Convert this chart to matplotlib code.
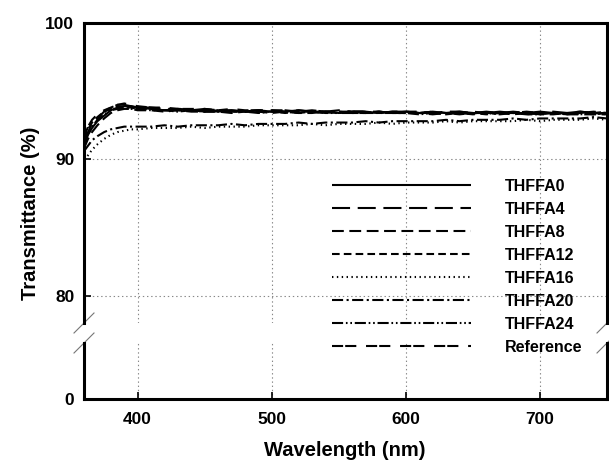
import matplotlib
matplotlib.use("Agg")
import matplotlib.pyplot as plt

plt.rcParams['font.family'] = ['Liberation Sans', 'DejaVu Sans']
plt.rcParams['font.weight'] = 'bold'
plt.rcParams['lines.scale_dashes'] = False

wl = [360, 363, 366, 370, 375, 380, 385, 390, 395, 400,
      410, 420, 430, 440, 450, 460, 470, 480, 490, 500,
      510, 520, 530, 540, 550, 560, 570, 580, 590, 600,
      610, 620, 630, 640, 650, 660, 670, 680, 690, 700,
      710, 720, 730, 740, 750]

thffa0 = [91.0, 91.8, 92.3, 92.8, 93.2, 93.6, 93.8, 93.9, 93.9, 93.8,
          93.7, 93.6, 93.7, 93.6, 93.6, 93.5, 93.6, 93.5, 93.6, 93.5,
          93.5, 93.6, 93.5, 93.5, 93.4, 93.5, 93.5, 93.4, 93.5, 93.5,
          93.4, 93.5, 93.4, 93.5, 93.4, 93.4, 93.5, 93.4, 93.4, 93.5,
          93.4, 93.4, 93.5, 93.4, 93.4]
thffa4 = [91.3, 92.0, 92.6, 93.0, 93.5, 93.8, 94.0, 94.0, 93.9, 93.8,
          93.8, 93.7, 93.7, 93.6, 93.7, 93.6, 93.6, 93.5, 93.6, 93.6,
          93.5, 93.6, 93.5, 93.5, 93.6, 93.5, 93.5, 93.5, 93.4, 93.5,
          93.5, 93.4, 93.5, 93.5, 93.4, 93.5, 93.4, 93.5, 93.4, 93.4,
          93.5, 93.4, 93.4, 93.5, 93.4]
thffa8 = [90.8, 91.5, 92.0, 92.5, 93.0, 93.4, 93.6, 93.7, 93.7, 93.6,
          93.6, 93.5, 93.6, 93.5, 93.5, 93.5, 93.4, 93.5, 93.5, 93.4,
          93.5, 93.4, 93.4, 93.5, 93.4, 93.4, 93.4, 93.5, 93.4, 93.4,
          93.4, 93.3, 93.4, 93.4, 93.3, 93.4, 93.4, 93.3, 93.4, 93.3,
          93.3, 93.4, 93.3, 93.3, 93.3]
thffa12 = [91.5, 92.2, 92.7, 93.1, 93.5, 93.7, 93.9, 93.8, 93.8, 93.7,
           93.7, 93.6, 93.6, 93.6, 93.5, 93.6, 93.5, 93.5, 93.5, 93.5,
           93.4, 93.5, 93.5, 93.4, 93.5, 93.4, 93.4, 93.5, 93.4, 93.4,
           93.4, 93.4, 93.3, 93.4, 93.4, 93.3, 93.4, 93.4, 93.3, 93.4,
           93.4, 93.3, 93.4, 93.3, 93.4]
thffa16 = [90.0, 90.3, 90.7, 91.1, 91.5, 91.8, 92.0, 92.1, 92.2, 92.2,
           92.3, 92.3, 92.3, 92.4, 92.3, 92.4, 92.4, 92.4, 92.5, 92.5,
           92.5, 92.5, 92.6, 92.5, 92.6, 92.6, 92.6, 92.7, 92.6, 92.7,
           92.7, 92.7, 92.8, 92.7, 92.8, 92.8, 92.8, 92.8, 92.9, 92.8,
           92.9, 92.9, 92.9, 93.0, 92.9]
thffa20 = [90.6, 91.0, 91.4, 91.7, 92.0, 92.2, 92.3, 92.4, 92.4, 92.4,
           92.4, 92.5, 92.4, 92.5, 92.5, 92.5, 92.6, 92.5, 92.6, 92.6,
           92.6, 92.7, 92.6, 92.7, 92.7, 92.7, 92.8, 92.7, 92.8, 92.8,
           92.8, 92.8, 92.9, 92.8, 92.9, 92.9, 92.9, 93.0, 92.9, 93.0,
           93.0, 93.0, 93.0, 93.1, 93.0]
thffa24 = [91.2, 91.9, 92.4, 92.9, 93.3, 93.6, 93.7, 93.8, 93.7, 93.7,
           93.6, 93.6, 93.5, 93.6, 93.5, 93.5, 93.5, 93.5, 93.4, 93.5,
           93.5, 93.4, 93.5, 93.4, 93.4, 93.5, 93.4, 93.4, 93.4, 93.4,
           93.3, 93.4, 93.4, 93.3, 93.4, 93.4, 93.3, 93.4, 93.3, 93.3,
           93.4, 93.3, 93.3, 93.4, 93.3]
reference = [91.6, 92.4, 92.9, 93.3, 93.6, 93.8, 94.0, 94.1, 94.0, 93.9,
             93.8, 93.8, 93.7, 93.7, 93.7, 93.6, 93.7, 93.6, 93.6, 93.6,
             93.6, 93.5, 93.6, 93.5, 93.5, 93.5, 93.5, 93.4, 93.5, 93.5,
             93.4, 93.5, 93.4, 93.4, 93.5, 93.4, 93.4, 93.4, 93.5, 93.4,
             93.4, 93.4, 93.5, 93.4, 93.5]

labels = ['THFFA0', 'THFFA4', 'THFFA8', 'THFFA12', 'THFFA16', 'THFFA20', 'THFFA24', 'Reference']
series = [thffa0, thffa4, thffa8, thffa12, thffa16, thffa20, thffa24, reference]
styles = [(0, ()), (0, (13, 5.5)), (0, (8.5, 4)), (0, (5.5, 3)), (0, (1, 2.5)),
          (0, (8, 2.5, 1.5, 2.5)), (0, (8, 2, 1.2, 2, 1.2, 2)), (0, (8, 1.5, 8, 7))]

fig = plt.figure(figsize=(6.09, 4.61), dpi=100)
left, width = 84 / 609, 523 / 609
ax_top = fig.add_axes([left, 1 - 323 / 461, width, 300 / 461])
ax_bot = fig.add_axes([left, 1 - 399 / 461, width, 56 / 461])

for y, lab, ls in zip(series, labels, styles):
    ax_top.plot(wl, y, color='black', lw=1.5, linestyle=ls, label=lab)

for ax in (ax_top, ax_bot):
    ax.set_xlim(360, 750)
    ax.set_xticks([400, 500, 600, 700])
    ax.grid(axis='x', color='#888888', linestyle=(0, (1, 2)), lw=0.8)
    for s in ax.spines.values():
        s.set_linewidth(2.2)
    ax.tick_params(direction='in', length=5, width=1.2, labelsize=12.5, pad=7)

ax_top.set_ylim(78, 100)
ax_top.set_yticks([80, 90, 100])
ax_top.grid(axis='y', color='#888888', linestyle=(0, (1, 2)), lw=0.8)
ax_top.spines['bottom'].set_visible(False)
ax_top.tick_params(axis='x', bottom=False, labelbottom=False)

ax_bot.set_ylim(0, 56 / 13.64)
ax_bot.set_yticks([0])
ax_bot.spines['top'].set_visible(False)
ax_bot.tick_params(axis='x', pad=9)

# break marks on both side spines
dx, dy = 10 / 523, 10 / 300
for xp in (0, 1):
    ax_top.plot([xp - dx, xp + dx], [-dy, dy], transform=ax_top.transAxes,
                color='#777777', lw=0.8, clip_on=False)
    ax_bot.plot([xp - dx, xp + dx], [1 - 10 / 56, 1 + 10 / 56], transform=ax_bot.transAxes,
                color='#777777', lw=0.8, clip_on=False)

fig.legend(*ax_top.get_legend_handles_labels(), loc='upper left',
           bbox_to_anchor=(332 / 609, 1 - 179 / 461), frameon=False,
           prop={'size': 11.5, 'weight': 'bold'}, handlelength=8.7,
           handletextpad=2.1, labelspacing=0.5, borderpad=0, borderaxespad=0)

fig.text(31 / 609, 1 - 213 / 461, 'Transmittance (%)', rotation=90,
         ha='center', va='center', fontsize=14.5, fontweight='bold')
fig.text(345 / 609, 1 - 456 / 461, 'Wavelength (nm)', ha='center', va='baseline',
         fontsize=14.5, fontweight='bold')

fig.savefig('out.png', dpi=100)
